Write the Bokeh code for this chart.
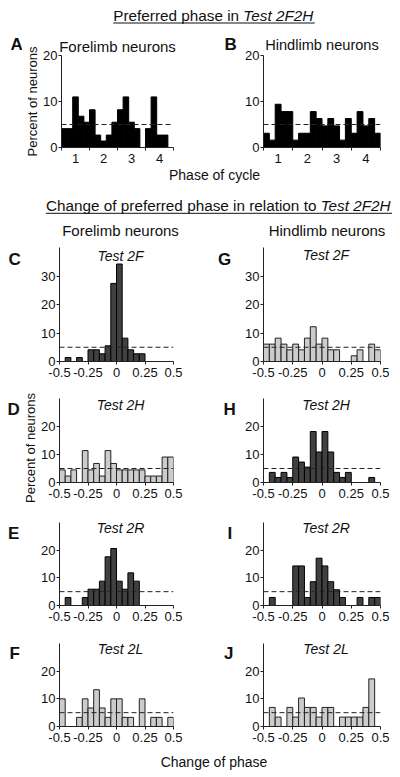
import math
import numpy as np
from bokeh.plotting import figure
from bokeh.models import Range1d, FixedTicker, Span, Label
from bokeh.layouts import column, row
from bokeh.embed import file_html
from bokeh.resources import INLINE

# ---------------- data ----------------
phase_bin_start = 0.0
phase_bin_width = 0.2
phase_tick_positions = [0.5, 1.5, 2.5, 3.5]
phase_tick_labels = ["1", "2", "3", "4"]
phase_cycle_bounds = [0, 1, 2, 3, 4]
phase_percent_max = 20

change_bin_start = -0.5
change_bin_width = 0.05
change_ticks = [-0.5, -0.25, 0.0, 0.25, 0.5]
change_tick_labels = ["-0.5", "-0.25", "0", "0.25", "0.5"]

uniform_percent = 5.0

# preferred phase in Test 2F2H (percent of neurons, 20 bins over the 4 quarters of the cycle)
forelimb_2f2h = [4.1, 4.1, 11.0, 6.8, 5.5, 8.2, 2.7, 1.4, 2.7, 5.5,
                 8.2, 11.0, 5.5, 4.1, 0.0, 4.1, 11.0, 2.7, 2.7, 0.0]
hindlimb_2f2h = [3.1, 1.6, 9.4, 7.8, 7.8, 1.6, 3.1, 3.1, 7.8, 6.3,
                 4.7, 6.3, 4.7, 1.6, 6.3, 3.1, 7.8, 4.7, 6.3, 3.1]

# change of preferred phase (percent of neurons, 20 bins from -0.5 to 0.5)
forelimb_2f = [0.0, 1.4, 0.0, 1.4, 0.0, 4.1, 4.1, 2.7, 5.5, 27.4,
               34.2, 8.2, 4.1, 2.7, 2.7, 0.0, 0.0, 0.0, 0.0, 0.0]
hindlimb_2f = [6.1, 6.1, 8.2, 6.1, 4.1, 6.1, 4.1, 8.2, 12.2, 6.1,
               8.2, 4.1, 4.1, 0.0, 0.0, 2.0, 4.1, 0.0, 6.1, 4.1]
forelimb_2h = [4.5, 2.3, 4.5, 0.0, 11.4, 4.5, 6.8, 2.3, 11.4, 6.8,
               4.5, 4.5, 4.5, 4.5, 4.5, 2.3, 2.3, 2.3, 9.1, 9.1]
hindlimb_2h = [0.0, 3.6, 1.8, 3.6, 1.8, 9.1, 7.3, 5.5, 18.2, 10.9,
               18.2, 10.9, 3.6, 1.8, 3.6, 0.0, 0.0, 0.0, 1.8, 0.0]
forelimb_2r = [0.0, 2.9, 0.0, 0.0, 2.9, 5.9, 5.9, 8.8, 17.6, 20.6,
               8.8, 5.9, 11.8, 8.8, 0.0, 0.0, 0.0, 0.0, 0.0, 0.0]
hindlimb_2r = [0.0, 2.9, 0.0, 0.0, 0.0, 14.3, 14.3, 2.9, 8.6, 17.1,
               14.3, 8.6, 5.7, 2.9, 0.0, 0.0, 2.9, 0.0, 2.9, 2.9]
forelimb_2l = [10.0, 0.0, 0.0, 3.3, 10.0, 6.7, 13.3, 6.7, 3.3, 10.0,
               10.0, 3.3, 3.3, 0.0, 10.0, 0.0, 3.3, 3.3, 0.0, 3.3]
hindlimb_2l = [0.0, 6.9, 3.4, 0.0, 6.9, 3.4, 10.3, 6.9, 6.9, 3.4,
               6.9, 6.9, 0.0, 3.4, 3.4, 3.4, 3.4, 6.9, 17.2, 0.0]

title_1_plain = "Preferred phase in "
title_1_italic = "Test 2F2H"
title_2_plain = "Change of preferred phase in relation to "
title_2_italic = "Test 2F2H"
column_titles = ["Forelimb neurons", "Hindlimb neurons"]
y_label = "Percent of neurons"
phase_x_label = "Phase of cycle"
change_x_label = "Change of phase"

# ---------------- style ----------------
FONT = "Liberation Sans"
TEXT = "#111111"
AXIS = "#222222"
BLACK = "#000000"
DARK = "#404040"
LIGHT = "#cccccc"
MID = 0.35   # em offset from baseline to the middle of the text box

ARIAL_W = {" ": 278, "-": 333, ".": 278, "C": 722, "F": 611, "H": 722, "P": 667,
           "T": 611, "a": 556, "b": 556, "c": 500, "d": 556, "e": 556, "f": 278,
           "g": 556, "h": 556, "i": 222, "l": 222, "m": 833, "n": 556, "o": 556,
           "p": 556, "r": 333, "s": 500, "t": 278, "u": 556, "y": 500}
for d in "0123456789":
    ARIAL_W[d] = 556


def text_width(s, size):
    return sum(ARIAL_W.get(c, 556) for c in s) / 1000.0 * size


# column geometry (page pixels)
L_LET_W, L_PAN_W, L_B_LEFT, L_B_RIGHT = 38, 162, 19, 27     # frame 57..173
R_LET_W, R_PAN_W, R_B_LEFT, R_B_RIGHT = 42, 158, 21, 20     # frame 263..380
L_X0, R_X0 = 0, 200


def base_fig(**kw):
    p = figure(toolbar_location=None, output_backend="svg", **kw)
    p.frame_align = False
    p.outline_line_color = None
    return p


class Band:
    """Text-only figure; helpers take page pixel coordinates (baselines)."""

    def __init__(self, x0, top, w, h):
        self.x0, self.top, self.w, self.h = x0, top, w, h
        self.p = base_fig(width=w, height=h, x_range=Range1d(0, w), y_range=Range1d(0, h),
                          x_axis_type=None, y_axis_type=None, min_border_left=0,
                          min_border_right=0, min_border_top=0, min_border_bottom=0)

    def X(self, x):
        return x - self.x0

    def Y(self, y):
        return self.top + self.h - y

    def text(self, x, y, text, size, style="normal", align="left", angle=0.0):
        if angle == 0.0:
            yy, xx = y - MID * size, x
        else:   # rotated 90 deg: the text's "up" points to the left
            yy, xx = y, x - MID * size
        self.p.add_layout(Label(x=self.X(xx), y=self.Y(yy), text=text, text_font=FONT,
                                text_font_size=f"{size}px", text_font_style=style,
                                text_align=align, text_baseline="middle",
                                angle=angle, text_color=TEXT))

    def underlined_title(self, cx, baseline, plain, italic, size):
        w1 = text_width(plain, size)
        w2 = text_width(italic, size)
        start = cx - (w1 + w2) / 2.0
        split = start + w1
        self.text(split, baseline, plain, size, align="right")
        self.text(split, baseline, italic, size, style="italic", align="left")
        self.p.segment(x0=[self.X(start)], y0=[self.Y(baseline + 2.5)],
                       x1=[self.X(start + w1 + w2)], y1=[self.Y(baseline + 2.5)],
                       line_color=TEXT, line_width=1)


def panel(is_left, band_top, height, top_b, bottom_b, x_rng, y_rng, yticks,
          values, bin_start, bin_width, fill, line, kind, y_bounds=None,
          width=None, left_b=None, x0=None, head=None, ylab=None):
    if is_left:
        w, lb, right_b, lx0 = L_PAN_W, L_B_LEFT, L_B_RIGHT, L_X0 + L_LET_W
    else:
        w, lb, right_b, lx0 = R_PAN_W, R_B_LEFT, R_B_RIGHT, R_X0 + R_LET_W
    width = w if width is None else width
    left_b = lb if left_b is None else left_b
    x0 = lx0 if x0 is None else x0
    frame_left = x0 + left_b
    p = base_fig(width=width, height=height, x_range=Range1d(*x_rng),
                 y_range=Range1d(*y_rng), min_border_left=left_b,
                 min_border_right=right_b, min_border_top=top_b,
                 min_border_bottom=bottom_b)
    p.grid.visible = False
    if head is not None:
        p.title.text = head
        p.title.align = "center"
        p.title.text_font = FONT
        p.title.text_font_size = "15px"
        p.title.text_font_style = "normal"
        p.title.text_color = TEXT
        p.title.standoff = 2

    vals = np.array(values, dtype=float)
    edges = bin_start + bin_width * np.arange(len(vals) + 1)
    keep = vals > 0
    p.quad(left=edges[:-1][keep], right=edges[1:][keep], bottom=0, top=vals[keep],
           fill_color=fill, line_color=line, line_width=1)

    p.add_layout(Span(location=uniform_percent, dimension="width",
                      line_color=AXIS, line_dash="5 3", line_width=1))

    for ax in (p.xaxis[0], p.yaxis[0]):
        ax.axis_line_color = AXIS
        ax.axis_line_width = 1
        ax.major_tick_line_color = AXIS
        ax.major_tick_out = 3
        ax.major_tick_in = 0
        ax.minor_tick_line_color = None
        ax.major_label_text_font = FONT
        ax.major_label_text_font_size = "13px"
        ax.major_label_text_color = TEXT
        ax.major_label_standoff = 2

    ya = p.yaxis[0]
    ya.ticker = FixedTicker(ticks=yticks)
    ya.major_label_standoff = 1
    if y_bounds is not None:
        ya.bounds = y_bounds
    if ylab is not None:
        ya.axis_label = ylab
        ya.axis_label_text_font = FONT
        ya.axis_label_text_font_size = "13px"
        ya.axis_label_text_font_style = "normal"
        ya.axis_label_text_color = TEXT
        ya.axis_label_standoff = 0

    xa = p.xaxis[0]
    if kind == "phase":
        xa.ticker = FixedTicker(ticks=phase_tick_positions, minor_ticks=phase_cycle_bounds)
        xa.major_label_overrides = {t: s for t, s in zip(phase_tick_positions, phase_tick_labels)}
        xa.major_tick_out = 0
        xa.minor_tick_line_color = AXIS
        xa.minor_tick_out = 3
        xa.minor_tick_in = 0
        xa.major_label_standoff = 3
    else:
        xa.ticker = FixedTicker(ticks=change_ticks)
        xa.major_label_overrides = {t: s for t, s in zip(change_ticks, change_tick_labels)}
        xa.major_label_standoff = 3

    frame_bottom = band_top + height - bottom_b
    return p, frame_left, frame_bottom


def ptext(p, fl, fb, x, y, text, size, style="normal", align="left"):
    p.add_layout(Label(x=x - fl, y=fb - (y - MID * size), x_units="screen", y_units="screen",
                       text=text, text_font=FONT, text_font_size=f"{size}px",
                       text_font_style=style, text_align=align,
                       text_baseline="middle", text_color=TEXT))


# ---------------- header 1 ----------------
h1 = Band(0, 0, 400, 30)
h1.underlined_title(213.5, 20, title_1_plain, title_1_italic, 15.3)

# ---------------- row A / B ----------------
ab_top, ab_h, ab_bottom_b = 30, 136, 19
ab_axis_top, ab_axis_bottom = 55, ab_top + ab_h - ab_bottom_b
ab_ymax = phase_percent_max * (ab_axis_bottom - ab_top) / (ab_axis_bottom - ab_axis_top)

A_LET_W = 22
letA = Band(L_X0, ab_top, A_LET_W, ab_h)
letA.text(10, 50, "A", 17, style="bold")
pA, flA, fbA = panel(True, ab_top, ab_h, ab_axis_top - ab_top, ab_bottom_b, (0, 4),
                     (0, phase_percent_max), [0, 10, 20],
                     forelimb_2f2h, phase_bin_start, phase_bin_width, BLACK, BLACK, "phase",
                     width=200 - A_LET_W, left_b=57 - A_LET_W, x0=A_LET_W,
                     head=column_titles[0], ylab=y_label)

letB = Band(R_X0, ab_top, R_LET_W, ab_h)
letB.text(224, 50, "B", 17, style="bold")
pB, flB, fbB = panel(False, ab_top, ab_h, 0, ab_bottom_b, (0, 4), (0, ab_ymax), [0, 10, 20],
                     hindlimb_2f2h, phase_bin_start, phase_bin_width, BLACK, BLACK, "phase",
                     y_bounds=(0, phase_percent_max))
ptext(pB, flB, fbB, 321.5, 50, column_titles[1], 14.6, align="center")

row_ab = row(letA.p, pA, letB.p, pB)

# ---------------- header 2 ----------------
h2 = Band(0, 166, 400, 76)
h2.text(214, 179.5, phase_x_label, 14, align="center")
h2.underlined_title(218.5, 210.3, title_2_plain, title_2_italic, 15.3)
h2.text(120, 235, column_titles[0], 15, align="center")
h2.text(326.5, 235, column_titles[1], 15, align="center")

# ---------------- change panels ----------------
rows_spec = [
    (242, 146, 5, 27, 40, [0, 10, 20, 30], (forelimb_2f, DARK, BLACK), (hindlimb_2f, LIGHT, AXIS),
     ("C", "G"), "Test 2F", 265, (260, 259)),
    (388, 122, 10, 28, 30, [0, 10, 20], (forelimb_2h, LIGHT, AXIS), (hindlimb_2h, DARK, BLACK),
     ("D", "H"), "Test 2H", 415, (409, 409)),
    (510, 122, 12, 27, 30, [0, 10, 20], (forelimb_2r, DARK, BLACK), (hindlimb_2r, DARK, BLACK),
     ("E", "I"), "Test 2R", 538.5, (532.5, 532.5)),
    (632, 118, 11, 24, 30, [0, 10, 20], (forelimb_2l, LIGHT, AXIS), (hindlimb_2l, LIGHT, AXIS),
     ("F", "J"), "Test 2L", 658.5, (653, 653)),
]
letter_x = {"C": 8, "D": 7, "E": 7.5, "F": 9, "G": 217.5, "H": 223, "I": 227, "J": 223.5}

layout_rows = []
for (btop, bh, tb, bb, ymax, yt, (ldat, lfill, lline), (rdat, rfill, rline),
     (ll, rl), test, lbase, (tbl, tbr)) in rows_spec:
    lL = Band(L_X0, btop, L_LET_W, bh)
    lL.text(letter_x[ll], lbase, ll, 17, style="bold")
    if ll == "D":
        lL.text(35, 447.5, y_label, 13, align="center", angle=math.pi / 2)
    pl, fl, fb = panel(True, btop, bh, tb, bb, (change_bin_start, -change_bin_start), (0, ymax), yt,
                       ldat, change_bin_start, change_bin_width, lfill, lline, "change")
    ptext(pl, fl, fb, 118, tbl, test, 14, style="italic", align="center")

    lR = Band(R_X0, btop, R_LET_W, bh)
    lR.text(letter_x[rl], lbase, rl, 17, style="bold")
    pr, fr, fbr = panel(False, btop, bh, tb, bb, (change_bin_start, -change_bin_start), (0, ymax), yt,
                        rdat, change_bin_start, change_bin_width, rfill, rline, "change")
    ptext(pr, fr, fbr, 325.5, tbr, test, 14, style="italic", align="center")
    layout_rows.append(row(lL.p, pl, lR.p, pr))

# ---------------- footer ----------------
ft = Band(0, 750, 400, 26)
ft.text(213.5, 766, change_x_label, 14, align="center")

layout = column(h1.p, row_ab, h2.p, *layout_rows, ft.p)

with open("out.html", "w") as f:
    f.write(file_html(layout, INLINE))
